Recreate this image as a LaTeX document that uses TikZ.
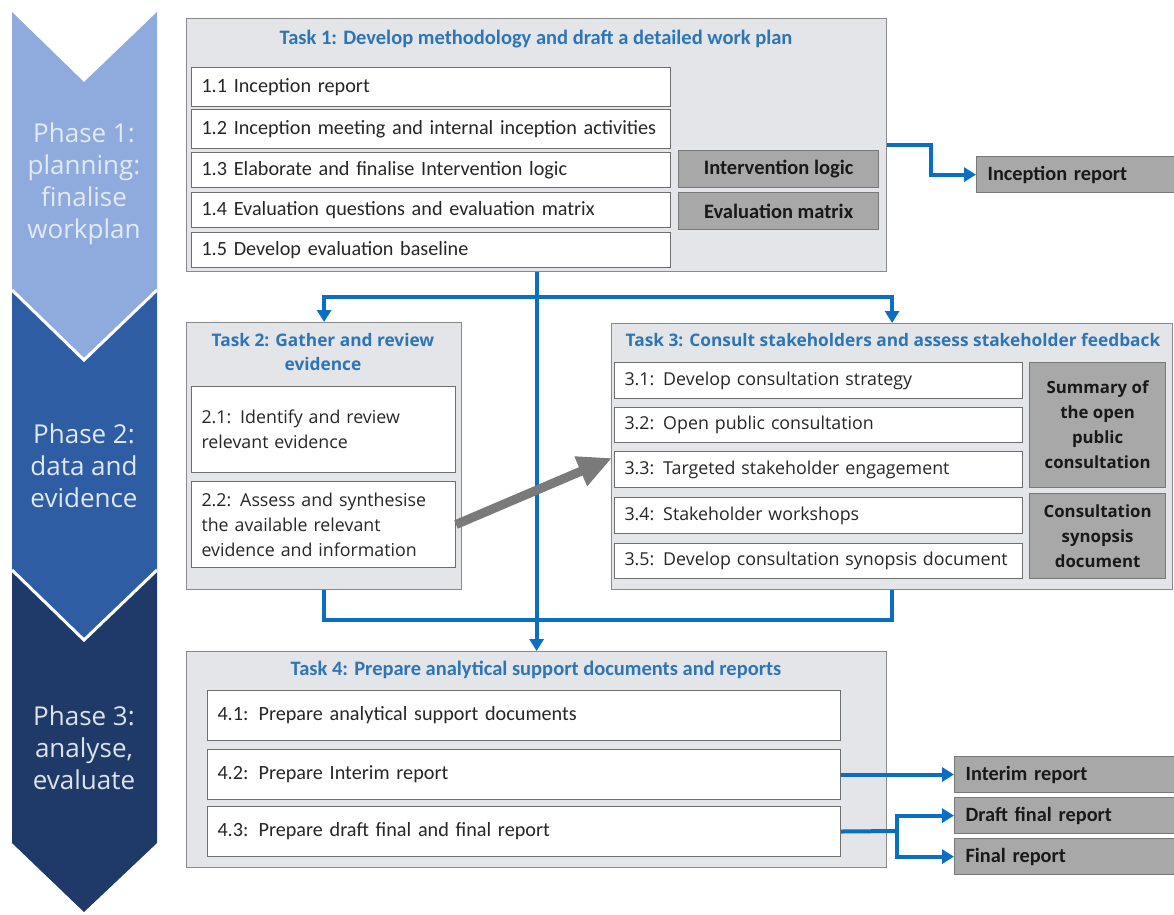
\documentclass[tikz,border=0pt]{standalone}
\usepackage{fontspec}
\setmainfont{Carlito}
\newfontfamily\segoe{Open Sans}
\usetikzlibrary{arrows.meta}
\definecolor{phA}{HTML}{8FAADC}
\definecolor{phAtxt}{HTML}{E2EAF6}
\definecolor{phB}{HTML}{2F5DA3}
\definecolor{phC}{HTML}{1F3A68}
\definecolor{taskfill}{HTML}{E3E5E8}
\definecolor{taskline}{HTML}{8A8A8A}
\definecolor{ttlblue}{HTML}{2E75B6}
\definecolor{outfill}{HTML}{A8A8A8}
\definecolor{outline}{HTML}{787878}
\definecolor{subline}{HTML}{6E6E6E}
\definecolor{txt}{HTML}{262626}
\definecolor{lblue}{HTML}{0A6EC2}
\definecolor{garr}{HTML}{7A7A7A}
\begin{document}
\begin{tikzpicture}[x=1pt,y=-1pt,
  taskbox/.style={draw=taskline, fill=taskfill, line width=1.2pt, anchor=north west, inner sep=0pt},
  ttlA/.style={text=ttlblue, font=\bfseries\fontsize{20.5}{24}\selectfont, inner sep=0pt},
  ttlB/.style={text=ttlblue, font=\segoe\bfseries\fontsize{17.3}{24}\selectfont, inner sep=0pt, align=center},
  subA/.style={draw=subline, fill=white, line width=1pt, anchor=north west, align=left, inner xsep=10pt, inner ysep=0pt, text=txt, font=\fontsize{20.2}{24}\selectfont},
  subB/.style={draw=subline, fill=white, line width=1pt, anchor=north west, align=left, inner xsep=10pt, inner ysep=0pt, text=txt, font=\segoe\fontsize{17.8}{25}\selectfont},
  outA/.style={draw=outline, fill=outfill, line width=1.2pt, anchor=north west, align=center, inner sep=0pt, text=black!90, font=\bfseries\fontsize{20.5}{24}\selectfont},
  outL/.style={draw=outline, fill=outfill, line width=1.2pt, anchor=north west, align=left, inner xsep=11pt, inner ysep=0pt, text=black!90, font=\bfseries\fontsize{20.3}{24}\selectfont},
  outB/.style={draw=outline, fill=outfill, line width=1.2pt, anchor=north west, align=center, inner sep=0pt, text=black!90, font=\segoe\bfseries\fontsize{16.8}{25}\selectfont},
  phtext/.style={align=center, font=\segoe\fontsize{26}{32}\selectfont, inner sep=0pt},
  bline/.style={draw=lblue, line width=4pt},
  barrow/.style={draw=lblue, line width=4pt, -{Triangle[length=12pt,width=14pt]}},
  garrow/.style={draw=garr, line width=9pt, -{Triangle[length=34pt,width=30pt]}}
]
\useasboundingbox (0,0) rectangle (1174,914);
\fill[white] (0,0) rectangle (1174,914);

% phase chevrons
\fill[phC] (12,570) -- (84,640) -- (157,570) -- (157,843) -- (84,912) -- (12,843) -- cycle;
\fill[phB] (12,290) -- (84,360) -- (157,290) -- (157,570) -- (84,640) -- (12,570) -- cycle;
\fill[phA] (12,12) -- (84,82) -- (157,12) -- (157,290) -- (84,360) -- (12,290) -- cycle;
\draw[white, line width=3pt] (12,290) -- (84,360) -- (157,290);
\draw[white, line width=3pt] (12,570) -- (84,640) -- (157,570);
\node[phtext, text=phAtxt] (p1) at (84,184) {Phase 1:\\planning:\\finalise\\workplan};
\node[phtext, text=white!85!phB] (p2) at (84,466) {Phase 2:\\data and\\evidence};
\node[phtext, text=white!85!phC] (p3) at (84,748) {Phase 3:\\analyse,\\evaluate};

% Task 1
\node[taskbox, minimum width=700pt, minimum height=253pt] (t1) at (186,18) {};
\node[ttlA] (t1t) at (536,39) {Task 1: Develop methodology and draft a detailed work plan};
\node[subA, minimum width=479pt, minimum height=39pt, text width=459pt] (s11) at (191,67) {1.1 Inception report};
\node[subA, minimum width=479pt, minimum height=39pt, text width=459pt] (s12) at (191,109) {1.2 Inception meeting and internal inception activities};
\node[subA, minimum width=479pt, minimum height=35pt, text width=459pt] (s13) at (191,152) {1.3 Elaborate and finalise Intervention logic};
\node[subA, minimum width=479pt, minimum height=35pt, text width=459pt] (s14) at (191,192) {1.4 Evaluation questions and evaluation matrix};
\node[subA, minimum width=479pt, minimum height=35pt, text width=459pt] (s15) at (191,232) {1.5 Develop evaluation baseline};
\node[outA, minimum width=200pt, minimum height=37pt] (il) at (678,150) {Intervention logic};
\node[outA, minimum width=200pt, minimum height=37pt] (em) at (678,192) {Evaluation matrix};
\node[outL, minimum width=210pt, minimum height=36pt, text width=188pt] (ir) at (976,156) {Inception report};

% Task 2
\node[taskbox, minimum width=275pt, minimum height=267pt] (t2) at (186,322) {};
\node[ttlB] (t2t) at (323,352) {Task 2: Gather and review\\evidence};
\node[subB, minimum width=264pt, minimum height=86pt, text width=244pt] (s21) at (191,386) {2.1: Identify and review\\relevant evidence};
\node[subB, minimum width=264pt, minimum height=86pt, text width=244pt] (s22) at (191,481) {2.2: Assess and synthesise\\the available relevant\\evidence and information};

% Task 3
\node[taskbox, minimum width=561pt, minimum height=266pt] (t3) at (611,323) {};
\node[ttlB] (t3t) at (893,340) {Task 3: Consult stakeholders and assess stakeholder feedback};
\node[subB, minimum width=408pt, minimum height=36pt, text width=388pt] (s31) at (614,362) {3.1: Develop consultation strategy};
\node[subB, minimum width=408pt, minimum height=35pt, text width=388pt] (s32) at (614,407) {3.2: Open public consultation};
\node[subB, minimum width=408pt, minimum height=36pt, text width=388pt] (s33) at (614,451) {3.3: Targeted stakeholder engagement};
\node[subB, minimum width=408pt, minimum height=36pt, text width=388pt] (s34) at (614,497) {3.4: Stakeholder workshops};
\node[subB, minimum width=408pt, minimum height=35pt, text width=388pt] (s35) at (614,543) {3.5: Develop consultation synopsis document};
\node[outB, minimum width=136pt, minimum height=125pt] (sum) at (1029,362) {Summary of\\the open\\public\\consultation};
\node[outB, minimum width=136pt, minimum height=85pt] (syn) at (1029,493) {Consultation\\synopsis\\document};

% Task 4
\node[taskbox, minimum width=700pt, minimum height=216pt] (t4) at (186,651) {};
\node[ttlA] (t4t) at (536,670) {Task 4: Prepare analytical support documents and reports};
\node[subA, minimum width=633pt, minimum height=50pt, text width=613pt] (s41) at (207,690) {4.1: Prepare analytical support documents};
\node[subA, minimum width=633pt, minimum height=50pt, text width=613pt] (s42) at (207,749) {4.2: Prepare Interim report};
\node[subA, minimum width=633pt, minimum height=50pt, text width=613pt] (s43) at (207,806) {4.3: Prepare draft final and final report};
\node[outL, minimum width=222pt, minimum height=36pt, text width=200pt] (irp) at (954,756) {Interim report};
\node[outL, minimum width=222pt, minimum height=36pt, text width=200pt] (dfr) at (954,797) {Draft final report};
\node[outL, minimum width=222pt, minimum height=36pt, text width=200pt] (fr) at (954,838) {Final report};

% connectors
\coordinate (j1) at (536,297);
\coordinate (j2) at (536,620);
\draw[barrow] (t1.south) -- (t4.north);
\draw[barrow] (j1) -| (t2.north);
\draw[barrow] (j1) -| (t3.north);
\draw[bline] (t2.south) |- (j2) -| (t3.south);
\draw[barrow] (t1.east) -- ++(44,0) |- (ir.west);
\draw[barrow] (s42.east) -- (s42.east -| irp.west);
\coordinate (j3) at (897,831);
\draw[bline] (s43.east) -- (j3);
\draw[barrow] (j3) |- (dfr.west);
\draw[barrow] (j3) |- (fr.west);
\coordinate (gtip) at (612,458);
\draw[garrow] (s22.east) -- (gtip);
\end{tikzpicture}
\end{document}
